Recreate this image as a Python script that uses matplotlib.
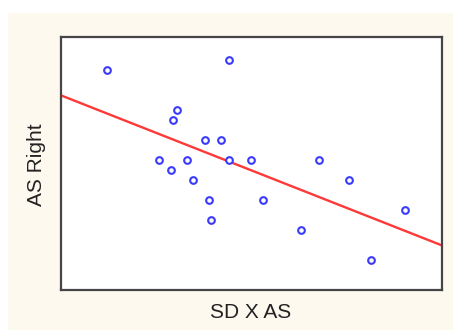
import numpy as np
import matplotlib.pyplot as plt
from matplotlib.patches import Rectangle

# SD X AS scores vs AS Right scores
sd_x_as = [2.3, 8.4, 5.8, 5.6, 7.2, 8.0, 4.9, 6.3, 8.4, 9.5,
           12.9, 5.5, 6.6, 14.4, 7.4, 10.1, 17.2, 7.5, 12.0, 15.5]
as_right = [11.0, 11.5, 9.0, 8.5, 7.5, 7.5, 6.5, 6.5, 6.5, 6.5,
            6.5, 6.0, 5.5, 5.5, 4.5, 4.5, 4.0, 3.5, 3.0, 1.5]

X_LIM = (0, 19.05)
Y_LIM = (0, 12.65)

x = np.array(sd_x_as)
y = np.array(as_right)

# least-squares fit line
slope, intercept = np.polyfit(x, y, 1)
fit_x = np.array(X_LIM)
fit_y = intercept + slope * fit_x

W, H = 453, 330
fig = plt.figure(figsize=(W / 100, H / 100), dpi=100)
fig.patch.set_facecolor("white")

# cream panel behind the plot
fig.patches.append(Rectangle((8 / W, 0), 1 - 8 / W, (H - 13) / H,
                             transform=fig.transFigure, facecolor="#fef9ef",
                             edgecolor="none", zorder=0))

ax = fig.add_axes([61 / W, (H - 290) / H, 381 / W, 253 / H])
ax.set_zorder(2)
ax.set_facecolor("white")

ax.plot(fit_x, fit_y, color="#ff3838", linewidth=1.7, zorder=2)
ax.plot(x, y, "o", markersize=4.8, markerfacecolor="white",
        markeredgecolor="#3a3aff", markeredgewidth=1.5, zorder=3)

ax.set_xlim(*X_LIM)
ax.set_ylim(*Y_LIM)
ax.set_xticks([])
ax.set_yticks([])
for s in ax.spines.values():
    s.set_linewidth(1.6)
    s.set_color("#454545")

font = dict(family=["Liberation Sans", "DejaVu Sans"], fontsize=15, color="#222222")
fig.text(251 / W, 1 - 312 / H, "SD X AS", ha="center", va="center", zorder=3, **font)
fig.text(37 / W, 1 - 165 / H, "AS Right", ha="center", va="center",
         rotation=90, zorder=3, **font)

fig.savefig("out.png", dpi=100, facecolor=fig.get_facecolor())
